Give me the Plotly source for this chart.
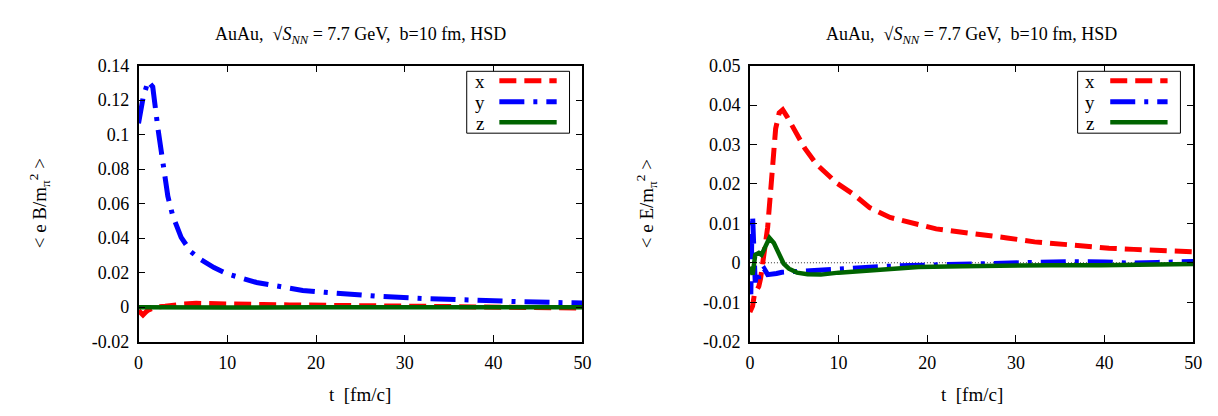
import plotly.graph_objects as go

# ---------------- data ----------------
# Left panel: <e B / m_pi^2>
BX_T = [0, 0.3, 0.5, 0.8, 1.0, 1.5, 2, 3, 4, 5, 6.5, 8.5, 11, 14, 17, 20, 25, 30, 35, 40, 45, 50]
BX_V = [-0.002, -0.0042, -0.0045, -0.003, -0.002, -0.0008, 0.0, 0.0005, 0.0013, 0.0018, 0.0022, 0.0022,
        0.0019, 0.0015, 0.0013, 0.0011, 0.0007, 0.0004, 0.0002, 0.0, -0.0003, -0.0005]

BY_T = [0, 0.5, 1.07, 1.6, 2.2, 2.6, 3.3, 3.85, 4.8, 5.9, 7, 8.5, 10, 13.3, 15.9, 18.5, 21,
        26.6, 32.2, 37.7, 43.3, 48.9, 50]
BY_V = [0.1066, 0.121, 0.131, 0.1277, 0.103, 0.090, 0.0643, 0.053, 0.0404, 0.0321, 0.0276, 0.0229,
        0.0193, 0.0143, 0.0119, 0.0097, 0.0086, 0.0064, 0.005, 0.0039, 0.0031, 0.0025, 0.0024]

BZ_T = [0, 2, 5, 10, 20, 30, 40, 50]
BZ_V = [0.0, -0.0001, -0.0002, -0.0002, -0.0001, -0.0001, 0.0, 0.0]

# Right panel: <e E / m_pi^2>
EX_T = [0, 0.3, 0.5, 0.8, 1.0, 1.2, 1.4, 1.7, 2.0, 2.4, 2.9, 3.3, 3.7, 4.2, 5, 6.2, 7.5, 8.5, 9.8,
        11.6, 13.5, 15.8, 17.3, 19, 21, 23.5, 26.6, 29, 32.1, 35, 37.7, 40.5, 43.3, 47, 50]
EX_V = [-0.0125, -0.011, -0.008, -0.0063, -0.006, -0.004, -0.001, 0.003, 0.009, 0.020, 0.034, 0.038,
        0.0388, 0.037, 0.0338, 0.029, 0.025, 0.023, 0.0202, 0.0175, 0.014, 0.0115, 0.0108, 0.0097,
        0.0086, 0.0079, 0.0072, 0.0063, 0.0053, 0.0047, 0.0041, 0.0037, 0.0034, 0.0032, 0.0028]

EY_T = [0, 0.1, 0.2, 0.3, 0.45, 0.6, 0.8, 1.0, 1.3, 1.6, 2.0, 2.5, 3.0, 3.6, 5, 6.3, 8, 9.8, 12.5,
        15.4, 18, 21, 25, 28.4, 32, 36, 40, 43, 46, 50]
EY_V = [-0.005, -0.008, 0.005, 0.012, 0.003, -0.005, -0.002, -0.004, -0.002, -0.0015, -0.003, -0.003,
        -0.0027, -0.0024, -0.0022, -0.0021, -0.0018, -0.0015, -0.0012, -0.0009, -0.0007, -0.0005,
        -0.0002, 0.0001, 0.0003, 0.0003, 0.0002, -0.0001, 0.0001, 0.0003]

EZ_T = [0, 0.3, 0.6, 1.0, 1.3, 1.8, 2.2, 2.7, 3.3, 3.8, 4.4, 5.3, 6.5, 8, 10, 15, 19, 24, 28.4, 34,
        39.6, 45, 50]
EZ_V = [-0.001, -0.003, 0.002, 0.0025, 0.002, 0.0045, 0.0063, 0.005, 0.0018, -0.0002, -0.0015, -0.0025,
        -0.0029, -0.003, -0.0025, -0.0016, -0.0011, -0.0009, -0.0007, -0.0006, -0.0006, -0.0004, -0.0003]

ZERO_T = [0, 50]
ZERO_V = [0, 0]

X_TICKS = [0, 10, 20, 30, 40, 50]
X_TICKTEXT = ["0", "10", "20", "30", "40", "50"]
YB_TICKS = [-0.02, 0, 0.02, 0.04, 0.06, 0.08, 0.1, 0.12, 0.14]
YB_TICKTEXT = ["-0.02", "0", "0.02", "0.04", "0.06", "0.08", "0.1", "0.12", "0.14"]
YE_TICKS = [-0.02, -0.01, 0, 0.01, 0.02, 0.03, 0.04, 0.05]
YE_TICKTEXT = ["-0.02", "-0.01", "0", "0.01", "0.02", "0.03", "0.04", "0.05"]

SERIES_NAMES = ["x", "y", "z"]
TITLE = "AuAu,  \u221a<i>S</i><sub><i>NN</i></sub> = 7.7 GeV,  b=10 fm, HSD"

# ---------------- style ----------------
W, H = 1218, 416
FONT = "Liberation Serif"
RED, BLUE, GREEN = "#ff0000", "#0000ff", "#006400"
DASH_X = "17px,8px"
DASH_Y = "25px,9px,4px,9px"
STYLES = [(RED, DASH_X, 5), (BLUE, DASH_Y, 5), (GREEN, "solid", 4.5)]


def px(x):
    return x / W


def py(y):
    return 1 - y / H


fig = go.Figure()

left = [(BX_T, BX_V), (BY_T, BY_V), (BZ_T, BZ_V)]
right = [(EX_T, EX_V), (EY_T, EY_V), (EZ_T, EZ_V)]

fig.add_trace(go.Scatter(x=ZERO_T, y=ZERO_V, mode="lines", xaxis="x2", yaxis="y2",
                         line=dict(color="black", width=0.8, dash="1px,2px"), showlegend=False,
                         hoverinfo="skip"))

for (t, v), (c, d, w) in zip(left, STYLES):
    fig.add_trace(go.Scatter(x=t, y=v, mode="lines", xaxis="x", yaxis="y",
                             line=dict(color=c, dash=d, width=w), showlegend=False))
for (t, v), (c, d, w) in zip(right, STYLES):
    fig.add_trace(go.Scatter(x=t, y=v, mode="lines", xaxis="x2", yaxis="y2",
                             line=dict(color=c, dash=d, width=w), showlegend=False))

PLOT_TOP, PLOT_BOT = 50, 340
L_X0, L_X1 = 127, 576
R_X0, R_X1 = 745.5, 1194

axis_common = dict(showline=True, linecolor="black", linewidth=1.5, mirror="ticks",
                   ticks="inside", ticklen=7, tickwidth=1.2, tickcolor="black",
                   showgrid=False, zeroline=False, ticklabelstandoff=4,
                   tickfont=dict(family=FONT, size=18, color="black"))

fig.update_layout(
    width=W, height=H,
    margin=dict(l=0, r=0, t=0, b=0),
    paper_bgcolor="white", plot_bgcolor="white",
    xaxis=dict(domain=[px(L_X0), px(L_X1)], range=[0, 50], anchor="y",
               tickvals=X_TICKS, ticktext=X_TICKTEXT, **axis_common),
    yaxis=dict(domain=[py(PLOT_BOT), py(PLOT_TOP)], range=[-0.02, 0.14], anchor="x",
               tickvals=YB_TICKS, ticktext=YB_TICKTEXT, **axis_common),
    xaxis2=dict(domain=[px(R_X0), px(R_X1)], range=[0, 50], anchor="y2",
                tickvals=X_TICKS, ticktext=X_TICKTEXT, **axis_common),
    yaxis2=dict(domain=[py(PLOT_BOT), py(PLOT_TOP)], range=[-0.02, 0.05], anchor="x2",
                tickvals=YE_TICKS, ticktext=YE_TICKTEXT, **axis_common),
)

ann = []
shapes = []
for cx in [(L_X0 + L_X1) / 2, (R_X0 + R_X1) / 2]:
    ann.append(dict(text=TITLE, x=px(cx), y=py(18), xref="paper", yref="paper",
                    showarrow=False, font=dict(family=FONT, size=18, color="black"),
                    xanchor="center", yanchor="middle"))
    ann.append(dict(text="t  [fm/c]", x=px(cx), y=py(396), xref="paper", yref="paper",
                    showarrow=False, font=dict(family=FONT, size=19, color="black"),
                    xanchor="center", yanchor="middle"))

for xlab, lab in [(27, "&lt; e B/m<sub>\u03c0</sub><sup>2</sup> &gt;"),
                  (641, "&lt; e E/m<sub>\u03c0</sub><sup>2</sup> &gt;")]:
    ann.append(dict(text=lab, x=px(xlab), y=py(195), xref="paper", yref="paper",
                    showarrow=False, textangle=-90,
                    font=dict(family=FONT, size=19, color="black"),
                    xanchor="center", yanchor="middle"))

# legend boxes (manual, text on the left of the line sample)
for bx0, bx1, tx, lx0, lx1 in [(459, 563, 472, 492, 550), (1077, 1181, 1090, 1110, 1168)]:
    shapes.append(dict(type="rect", xref="paper", yref="paper",
                       x0=px(bx0), x1=px(bx1), y0=py(121), y1=py(56),
                       line=dict(color="black", width=1), fillcolor="white", layer="above"))
    for name, (c, d, w), yy in zip(SERIES_NAMES, STYLES, [67, 89, 110.5]):
        ann.append(dict(text=name, x=px(tx), y=py(yy), xref="paper", yref="paper",
                        showarrow=False, font=dict(family=FONT, size=19, color="black"),
                        xanchor="center", yanchor="middle"))
        shapes.append(dict(type="line", xref="paper", yref="paper",
                           x0=px(lx0), x1=px(lx1), y0=py(yy - 1), y1=py(yy - 1),
                           line=dict(color=c, dash=d, width=w), layer="above"))

fig.update_layout(annotations=ann, shapes=shapes)

fig.write_html("out.html")
